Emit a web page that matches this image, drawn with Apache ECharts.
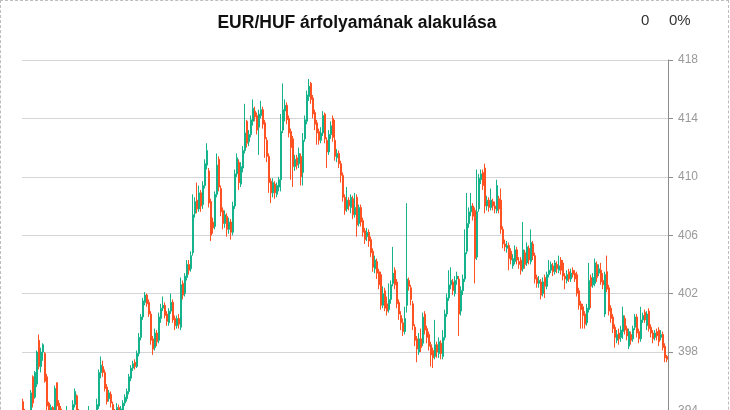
<!DOCTYPE html>
<html>
<head>
<meta charset="utf-8">
<script src="https://cdn.jsdelivr.net/npm/echarts@6/dist/echarts.min.js"></script>
<style>
html,body{margin:0;padding:0;overflow:hidden;background:#fff;}
#wrap{position:relative;width:730px;height:500px;}
#chart{position:absolute;left:0;top:0;width:730px;height:500px;}
#frame{position:absolute;left:0;top:0;width:729px;height:500px;box-sizing:border-box;border:1px dashed #bdbdbd;pointer-events:none;}
</style>
</head>
<body>
<div id="wrap"><div id="chart"></div><div id="frame"></div></div>
<script>
const titleText = 'EUR/HUF árfolyamának alakulása';
const changeValue = '0';
const changePct = '0%';
const yTicks = [390, 394, 398, 402, 406, 410, 414, 418];

const opens = [
394.6,393.9,393.4,393.3,394.0,396.3,394.9,395.8,398.8,397.0,
398.0,397.9,396.3,394.5,393.7,394.2,393.8,395.9,394.5,394.1,
393.6,393.2,393.0,393.4,393.0,393.6,394.4,395.0,393.9,393.4,
392.9,392.6,392.8,393.2,393.9,393.3,393.0,393.6,394.3,396.6,
397.0,396.6,395.6,394.8,395.1,394.4,393.9,393.7,394.2,393.8,
394.0,394.5,394.8,395.3,396.2,396.9,397.3,397.0,397.9,399.0,
400.4,401.4,401.9,401.4,400.6,398.9,398.3,399.3,398.8,400.3,
401.0,401.2,400.6,400.0,400.8,401.4,400.3,399.8,400.3,399.7,
402.7,402.0,403.1,404.0,403.7,404.8,407.5,408.4,407.8,408.9,
408.1,409.4,410.8,410.4,408.3,406.9,406.6,408.8,411.2,409.2,
407.7,406.8,407.3,406.4,406.9,406.2,408.0,410.2,411.0,409.5,
410.6,411.8,413.8,412.4,412.9,413.8,414.5,414.2,413.4,414.2,
414.6,413.7,412.5,411.4,409.7,408.9,409.5,408.8,409.3,409.8,
413.2,414.5,414.9,414.0,413.1,412.6,410.7,411.3,410.9,411.4,
410.3,412.6,413.8,415.5,416.4,415.4,414.4,413.7,413.1,412.5,
413.0,414.3,412.5,411.7,412.9,414.0,412.5,411.3,411.6,410.9,
410.1,408.6,407.8,408.4,407.9,408.5,407.4,408.6,406.8,407.9,
407.0,406.3,405.9,406.2,405.7,404.9,403.7,404.2,403.5,403.3,
401.2,402.2,401.3,400.9,401.6,402.7,403.6,402.8,401.4,400.5,
400.0,399.4,401.2,402.9,402.4,401.3,399.7,398.9,398.0,398.9,
398.6,400.6,399.6,399.2,398.5,398.1,397.7,398.5,397.9,398.6,
397.7,399.0,400.6,401.7,402.6,402.8,402.0,403.0,403.0,400.8,
402.2,403.0,404.9,406.8,407.6,408.0,407.7,404.5,407.8,409.8,
410.3,410.6,408.0,408.4,407.9,408.3,408.0,407.7,408.5,408.4,
406.4,405.4,405.1,405.3,404.9,403.9,404.2,405.0,404.2,404.3,
403.7,404.8,404.1,405.1,404.2,405.4,404.6,403.1,402.7,402.8,
402.0,403.1,402.5,403.3,403.6,403.9,403.5,404.0,403.6,404.3,
404.1,403.2,402.9,403.5,403.0,403.6,403.4,403.3,402.2,401.3,
401.1,400.6,400.0,400.9,403.1,402.6,402.7,404.0,403.4,403.6,
402.9,400.6,403.5,402.4,401.0,400.4,399.7,398.8,399.3,399.0,
399.4,400.3,399.6,398.4,399.2,398.9,399.7,400.4,399.4,398.9,
400.2,400.7,399.8,400.8,399.7,399.3,399.0,399.4,399.5,399.0,
399.2,398.4,397.7
];

const closes = [
393.9,393.4,393.2,393.8,395.2,394.5,396.6,398.0,397.0,398.0,
398.5,396.0,394.3,393.8,394.2,393.7,395.5,394.3,393.9,393.6,
393.2,392.9,393.9,393.1,393.6,394.4,395.3,394.0,393.4,392.9,
392.5,392.8,393.2,393.9,393.4,393.0,393.6,394.4,396.6,397.1,
396.6,395.5,394.6,395.2,394.5,393.9,393.6,394.2,393.8,394.1,
394.5,394.9,395.3,396.3,396.9,397.2,397.0,397.9,399.0,400.4,
401.5,401.9,401.3,400.6,398.8,398.2,399.3,398.7,400.4,401.0,
401.2,400.5,400.1,400.8,401.4,400.2,399.8,400.3,399.9,402.6,
401.9,403.2,404.0,403.6,404.6,407.4,408.3,407.8,408.9,408.0,
409.4,410.9,411.8,408.2,406.0,406.5,408.8,410.8,409.3,407.6,
406.8,407.4,406.4,406.9,406.2,408.0,410.2,411.3,409.6,410.7,
411.8,413.0,412.3,412.9,413.9,414.7,414.1,413.2,414.3,414.6,
413.6,412.6,411.4,409.6,408.9,409.6,408.9,409.4,409.8,413.1,
414.6,414.9,413.9,413.0,412.0,410.7,411.2,410.8,411.6,410.0,
412.5,413.9,415.6,416.2,415.3,414.3,413.6,413.0,412.5,413.0,
414.2,412.6,411.7,412.9,413.5,412.7,411.4,411.6,410.9,410.1,
408.6,407.7,408.4,408.0,408.6,407.4,407.9,406.7,407.9,406.9,
406.2,405.7,406.2,405.6,404.8,403.8,404.3,403.4,402.6,401.2,
402.0,401.0,400.8,401.6,402.6,403.4,402.6,401.3,400.6,400.0,
399.4,400.3,403.0,402.5,401.6,399.8,398.8,398.2,398.9,398.3,
400.4,399.5,399.0,398.4,397.8,397.6,398.5,398.0,398.7,397.9,
399.0,400.6,401.7,402.6,402.9,402.2,402.9,403.2,400.6,402.2,
403.0,404.8,406.8,407.6,408.0,407.3,404.4,407.6,409.9,410.2,
409.4,408.0,408.4,407.9,408.4,408.0,407.8,409.4,407.8,406.4,
405.4,405.2,405.3,404.4,404.3,404.4,405.0,404.3,404.0,403.6,
405.0,404.0,405.2,404.3,405.5,404.6,403.0,402.7,402.9,401.9,
402.8,402.5,403.3,403.6,404.0,403.5,404.1,403.7,403.9,403.6,
403.2,403.0,403.3,403.0,403.4,403.3,403.0,402.0,401.2,400.9,
400.5,399.9,401.0,402.9,402.5,403.1,404.1,403.1,403.7,402.8,
402.6,403.3,402.3,400.8,400.3,399.6,399.0,399.2,398.9,399.5,
400.5,399.5,399.1,399.4,398.8,399.6,400.4,399.3,398.9,400.2,
400.5,400.2,400.6,399.6,399.3,398.9,399.3,399.1,398.7,399.2,
398.3,397.6,397.5
];

const lows = [
393.7,393.1,392.9,393.1,393.9,394.2,394.8,395.6,396.8,396.6,
397.4,395.9,394.0,393.5,393.5,393.4,393.6,394.0,393.6,393.2,
392.9,392.6,392.8,392.8,392.8,393.4,394.2,393.8,393.1,392.6,
392.2,392.3,392.6,393.0,393.2,392.7,392.9,393.5,394.1,396.2,
396.3,395.3,394.4,394.6,394.2,393.6,393.3,393.5,393.5,393.6,
393.8,394.3,394.6,395.1,396.0,396.7,396.8,396.9,397.7,398.8,
400.2,401.2,401.1,400.4,398.5,397.8,398.1,398.4,398.6,400.0,
400.8,400.3,399.8,399.8,400.6,400.0,399.5,399.6,399.6,399.5,
401.6,401.8,402.9,403.3,403.5,404.6,407.2,407.5,407.6,407.6,
407.8,409.2,410.5,407.9,405.6,406.1,406.4,408.6,409.0,407.3,
406.4,406.5,405.9,406.1,405.7,406.0,407.8,410.0,409.1,409.3,
410.3,411.6,412.0,412.1,412.7,413.5,413.8,412.9,411.5,414.0,
413.3,411.3,411.0,408.9,408.2,408.6,408.5,408.6,409.0,409.0,
413.0,413.8,413.6,412.7,409.8,409.3,410.4,410.5,410.6,409.4,
409.4,412.4,413.6,415.2,415.0,414.0,413.2,412.2,412.2,412.3,
412.8,412.3,410.6,411.5,412.6,412.4,411.1,411.0,410.6,409.6,
408.3,407.4,407.6,407.7,407.5,407.1,407.2,405.9,406.6,406.6,
405.9,405.4,405.6,405.2,404.5,403.5,403.4,403.0,402.3,400.9,
401.0,400.8,400.5,400.7,401.3,402.5,402.3,401.0,400.2,399.5,
399.1,399.2,400.7,402.2,401.2,399.5,398.4,397.3,397.8,398.0,
398.4,399.2,398.6,398.1,397.0,396.9,397.5,397.6,397.6,397.5,
397.5,398.8,400.4,401.5,402.3,401.9,401.8,402.6,399.1,400.5,
401.9,402.8,404.7,406.5,407.3,407.0,402.7,404.3,407.6,409.5,
409.1,407.5,407.7,407.6,407.7,407.7,407.5,407.5,407.5,406.1,
405.1,404.9,404.8,403.6,404.0,403.7,404.0,404.0,403.7,403.3,
403.5,403.7,403.9,404.0,404.0,404.3,402.7,402.4,402.4,401.6,
401.8,401.7,402.3,403.1,403.4,403.2,403.3,403.4,403.4,403.3,
402.9,402.3,402.7,402.8,402.8,403.1,402.8,401.8,400.9,399.6,
399.6,399.6,399.8,400.7,401.0,402.4,402.5,402.8,403.2,402.6,
402.3,400.4,402.1,400.5,400.0,399.3,398.3,398.6,398.5,398.7,
398.9,399.2,398.8,398.2,398.5,398.7,399.5,399.0,398.6,398.7,
400.0,400.0,399.5,399.4,399.0,398.6,398.8,398.8,398.4,398.8,
398.1,397.3,397.3
];

const highs = [
394.8,394.1,393.7,394.0,395.4,396.4,396.7,398.1,399.2,398.3,
398.6,398.0,396.5,394.6,394.4,394.3,395.7,395.9,394.7,394.3,
393.8,393.4,394.3,393.6,393.8,394.7,395.5,395.1,394.1,393.6,
393.1,393.0,393.4,394.3,394.0,393.5,393.9,394.8,396.8,397.7,
397.4,396.8,395.8,395.4,395.3,394.6,394.1,394.5,394.4,394.3,
394.7,395.1,395.5,396.5,397.1,397.4,397.5,398.1,399.3,400.6,
401.7,402.1,402.0,401.6,400.8,399.1,399.6,399.5,400.7,401.3,
401.8,401.4,400.8,401.0,402.0,401.6,400.5,400.5,400.6,403.1,
402.9,403.4,404.3,404.3,404.9,408.8,408.6,409.6,409.4,409.1,
409.7,411.2,412.3,410.6,408.5,407.2,409.0,411.6,411.4,409.4,
407.9,407.7,407.5,407.2,407.1,408.3,410.5,411.6,411.2,411.0,
412.1,415.0,413.9,413.2,414.2,415.3,414.8,414.4,414.6,415.2,
414.8,413.9,412.7,411.6,409.9,409.9,409.7,409.6,410.0,414.3,
416.4,415.3,415.1,414.2,413.3,412.8,411.5,411.5,412.0,411.6,
413.0,414.2,415.9,416.7,416.5,415.6,414.6,413.9,413.3,413.4,
414.5,414.4,412.7,413.2,413.8,414.2,413.9,411.9,411.8,411.1,
410.3,408.8,409.3,408.6,408.8,408.7,408.9,408.8,408.1,408.1,
407.2,406.5,406.5,406.4,405.9,405.1,404.6,404.4,403.7,403.5,
402.5,402.4,401.8,402.7,402.9,405.2,403.8,403.0,401.6,400.8,
400.3,401.1,408.2,403.1,402.6,401.5,399.9,399.1,399.3,399.6,
400.7,400.8,399.8,399.4,398.7,398.3,400.2,398.7,399.0,398.8,
399.5,400.9,402.0,403.6,403.8,403.0,403.2,403.5,403.2,402.5,
403.3,406.4,408.9,407.9,408.9,408.2,407.9,410.5,410.2,410.5,
410.5,410.9,408.7,408.6,409.2,408.5,408.3,409.8,408.7,409.2,
406.6,405.7,405.6,405.5,405.1,404.7,405.3,405.2,404.5,404.5,
406.9,405.0,405.5,405.3,406.4,405.6,404.8,403.3,403.2,403.0,
403.1,403.3,403.5,404.3,404.2,404.1,404.3,404.2,404.6,404.5,
404.3,403.4,403.6,403.7,403.7,403.8,403.6,403.5,402.4,401.5,
401.3,400.8,401.3,404.1,403.3,403.4,404.4,404.2,404.0,404.1,
403.4,403.5,404.6,402.6,401.2,400.6,399.9,399.5,399.6,399.8,
401.1,400.5,399.8,399.6,399.4,399.8,400.6,400.6,399.6,401.1,
400.7,400.9,400.8,401.0,399.9,399.5,399.5,399.6,399.7,399.5,
399.4,398.6,397.8
];

const days = opens.map((_, i) => String(i + 1));
const ohlc = opens.map((o, i) => [o, closes[i], lows[i], highs[i]]);

const UP = '#14b38b';
const DOWN = '#ff5122';

const chart = echarts.init(document.getElementById('chart'), null, {renderer: 'canvas'});
chart.setOption({
  animation: false,
  backgroundColor: '#fff',
  title: {
    text: titleText,
    left: 352,
    textAlign: 'center',
    top: 9,
    textStyle: {fontFamily: 'Liberation Sans, Arial, sans-serif', fontSize: 17.5, fontWeight: 'bold', color: '#111'}
  },
  graphic: [
    {type: 'text', left: 641, top: 13, style: {text: changeValue, font: '15px "Liberation Sans", Arial, sans-serif', fill: '#333'}},
    {type: 'text', left: 669, top: 13, style: {text: changePct, font: '15px "Liberation Sans", Arial, sans-serif', fill: '#333'}}
  ],
  grid: {left: 22, right: 62, top: 60, bottom: 31.2},
  xAxis: {
    type: 'category',
    data: days,
    boundaryGap: true,
    show: false
  },
  yAxis: {
    type: 'value',
    position: 'right',
    min: yTicks[0],
    max: yTicks[yTicks.length - 1],
    interval: 4,
    axisLine: {show: true, lineStyle: {color: '#8c8c8c', width: 1}},
    axisTick: {show: true, length: 5, lineStyle: {color: '#8c8c8c'}},
    axisLabel: {color: '#999', fontSize: 12, margin: 10, fontFamily: 'Liberation Sans, Arial, sans-serif'},
    splitLine: {show: true, lineStyle: {color: '#d3d5d8', width: 1}}
  },
  series: [{
    type: 'candlestick',
    data: ohlc,
    barWidth: '90%',
    itemStyle: {color: UP, color0: DOWN, borderColor: UP, borderColor0: DOWN, borderWidth: 1}
  }]
});
</script>
</body>
</html>
